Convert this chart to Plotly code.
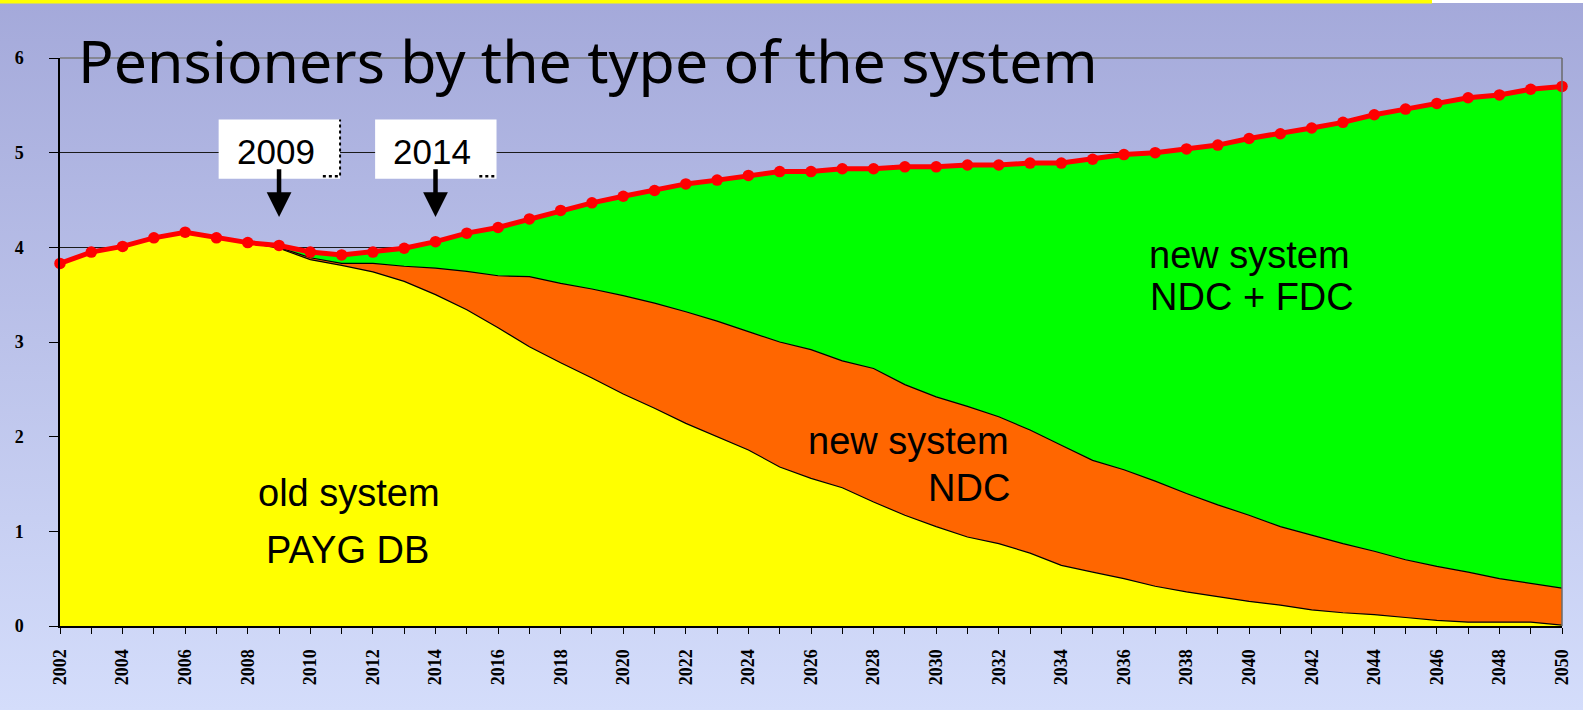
import base64
import plotly.graph_objects as go

# ---------------- data ----------------
years = list(range(2002, 2051))

# total number of pensioners (red line, millions)
total = [3.83, 3.95, 4.01, 4.10, 4.16, 4.10, 4.05, 4.02, 3.95, 3.92,
         3.95, 3.99, 4.06, 4.15, 4.21, 4.30, 4.39, 4.47, 4.54, 4.60,
         4.67, 4.71, 4.76, 4.80, 4.80, 4.83, 4.83, 4.85, 4.85, 4.87,
         4.87, 4.89, 4.89, 4.93, 4.98, 5.00, 5.04, 5.08, 5.15, 5.20,
         5.26, 5.32, 5.40, 5.46, 5.52, 5.58, 5.61, 5.67, 5.70]

# upper edge of the old system (PAYG DB) area
old_system = [3.83, 3.95, 4.01, 4.10, 4.16, 4.10, 4.05, 3.99, 3.87, 3.81,
              3.74, 3.64, 3.50, 3.34, 3.15, 2.95, 2.78, 2.62, 2.45, 2.30,
              2.14, 2.00, 1.86, 1.68, 1.56, 1.46, 1.31, 1.17, 1.05, 0.94,
              0.87, 0.77, 0.64, 0.57, 0.50, 0.42, 0.36, 0.31, 0.26, 0.22,
              0.17, 0.14, 0.12, 0.09, 0.06, 0.04, 0.04, 0.04, 0.01]

# upper edge of the old system + new system NDC area
old_plus_ndc = [3.83, 3.95, 4.01, 4.10, 4.16, 4.10, 4.05, 4.00, 3.89, 3.83,
                3.83, 3.80, 3.78, 3.745, 3.70, 3.69, 3.62, 3.56, 3.49, 3.41,
                3.32, 3.22, 3.11, 3.00, 2.92, 2.80, 2.72, 2.55, 2.42, 2.32,
                2.21, 2.07, 1.91, 1.75, 1.65, 1.53, 1.40, 1.28, 1.17, 1.05,
                0.96, 0.87, 0.79, 0.70, 0.63, 0.57, 0.50, 0.45, 0.40]

marked_years = [2009, 2014]
area_labels = [("old system", 2011.25, 1.40), ("PAYG DB", 2011.2, 0.80),
               ("new system", 2029.1, 1.95), ("NDC", 2031.05, 1.46),
               ("new system", 2040.0, 3.92), ("NDC + FDC", 2040.1, 3.48)]
title_text = "Pensioners by the type of the system"

# ---------------- layout geometry ----------------
W, H = 1583, 710
L, R, T, B = 60, 21, 58, 84
PW, PH = W - L - R, H - T - B


def fx(px):
    return (px - L) / PW


def fy(py):
    return (H - B - py) / PH


fig = go.Figure()

fig.add_trace(go.Scatter(
    x=years, y=old_system, mode="lines", name="old system PAYG DB",
    line=dict(color="black", width=1.2), fill="tozeroy", fillcolor="#FFFF00",
    hoverinfo="x+y"))
fig.add_trace(go.Scatter(
    x=years, y=old_plus_ndc, mode="lines", name="new system NDC",
    line=dict(color="black", width=1.2), fill="tonexty", fillcolor="#FF6600",
    hoverinfo="x+y"))
fig.add_trace(go.Scatter(
    x=years, y=total, mode="lines+markers", name="new system NDC + FDC",
    line=dict(color="#FF0000", width=5),
    marker=dict(color="#FF0000", size=11.5),
    fill="tonexty", fillcolor="#00FF00", cliponaxis=False, hoverinfo="x+y"))

# background gradient as an inline SVG image
svg = ('<svg xmlns="http://www.w3.org/2000/svg" width="%d" height="%d" '
       'preserveAspectRatio="none"><defs><linearGradient id="g" x1="0" y1="0" '
       'x2="0" y2="1"><stop offset="0" stop-color="#A4A9DA"/>'
       '<stop offset="1" stop-color="#D4DDFB"/></linearGradient></defs>'
       '<rect width="%d" height="%d" fill="url(#g)"/></svg>') % (W, H, W, H)
src = "data:image/svg+xml;base64," + base64.b64encode(svg.encode()).decode()

fig.add_layout_image(dict(
    source=src, xref="paper", yref="paper", x=fx(0), y=fy(0),
    sizex=W / PW, sizey=H / PH, sizing="stretch", xanchor="left",
    yanchor="top", layer="below"))

shapes = []
# top strip
shapes.append(dict(type="rect", xref="paper", yref="paper", x0=fx(0), x1=fx(W),
                   y0=fy(0), y1=fy(3), fillcolor="white", line_width=0,
                   layer="above"))
shapes.append(dict(type="rect", xref="paper", yref="paper", x0=fx(0), x1=fx(1432),
                   y0=fy(0), y1=fy(3.5), fillcolor="#FFFF00", line_width=0,
                   layer="above"))
# gray frame top/right
shapes.append(dict(type="line", xref="paper", yref="paper", x0=0, x1=1, y0=1, y1=1,
                   line=dict(color="#7a7a7a", width=1.5), layer="above"))
shapes.append(dict(type="line", xref="paper", yref="paper", x0=1, x1=1, y0=0, y1=1,
                   line=dict(color="#6a6a6a", width=1.5), layer="above"))

# year boxes
box_w_years = 3.88
for i, yr in enumerate(marked_years):
    x0 = yr - 1.93
    x1 = x0 + box_w_years
    shapes.append(dict(type="rect", xref="x", yref="y", x0=x0, x1=x1,
                       y0=4.725, y1=5.35, fillcolor="white", line_width=0,
                       layer="above"))
    shapes.append(dict(type="line", xref="x", yref="y", x0=x1 - 0.55, x1=x1 - 0.05,
                       y0=4.75, y1=4.75, line=dict(color="black", width=2.5, dash="dot"),
                       layer="above"))
    if i == 0:
        shapes.append(dict(type="line", xref="x", yref="y", x0=x1, x1=x1,
                           y0=4.76, y1=5.35,
                           line=dict(color="black", width=2, dash="dot"),
                           layer="above"))

annotations = []
for yr in marked_years:
    annotations.append(dict(x=yr - 0.1, y=5.01, xref="x", yref="y", text=str(yr),
                            showarrow=False,
                            font=dict(family="Liberation Sans", size=35, color="black")))
    annotations.append(dict(x=yr, y=4.32, ax=yr, ay=4.84, xref="x", yref="y",
                            axref="x", ayref="y", text="", showarrow=True,
                            arrowhead=2, arrowsize=1.1, arrowwidth=4.5,
                            arrowcolor="black", standoff=0))

for txt, xv, yv in area_labels:
    annotations.append(dict(x=xv, y=yv, xref="x", yref="y", text=txt,
                            showarrow=False,
                            font=dict(family="Liberation Sans", size=38, color="black")))

annotations.append(dict(x=fx(76), y=fy(60), xref="paper", yref="paper",
                        xanchor="left", yanchor="middle", text=title_text,
                        showarrow=False,
                        font=dict(family="Noto Sans", size=59, color="black")))

fig.update_layout(
    width=W, height=H,
    margin=dict(l=L, r=R, t=T, b=B, pad=0),
    paper_bgcolor="#BCC3EA", plot_bgcolor="rgba(0,0,0,0)",
    showlegend=False,
    shapes=shapes, annotations=annotations,
    xaxis=dict(range=[2002, 2050], tick0=2002, dtick=2, showgrid=False,
               zeroline=False, showline=True, linecolor="black", linewidth=2,
               ticks="outside", ticklen=6, tickcolor="black", tickwidth=1.2,
               tickangle=-90, ticklabelstandoff=8,
               tickfont=dict(family="Liberation Serif", size=18, color="black",
                             weight="bold"),
               minor=dict(dtick=1, tick0=2002, ticks="outside", ticklen=6,
                          tickcolor="black", tickwidth=1.2)),
    yaxis=dict(range=[0, 6], dtick=1, showgrid=True, gridcolor="#1a1a1a",
               gridwidth=1, zeroline=False, showline=True, linecolor="black",
               linewidth=1.5, ticks="outside", ticklen=9, tickcolor="black",
               tickwidth=1.2, ticklabelstandoff=22,
               tickfont=dict(family="Liberation Serif", size=18, color="black",
                             weight="bold")),
)

fig.write_html("out.html")
